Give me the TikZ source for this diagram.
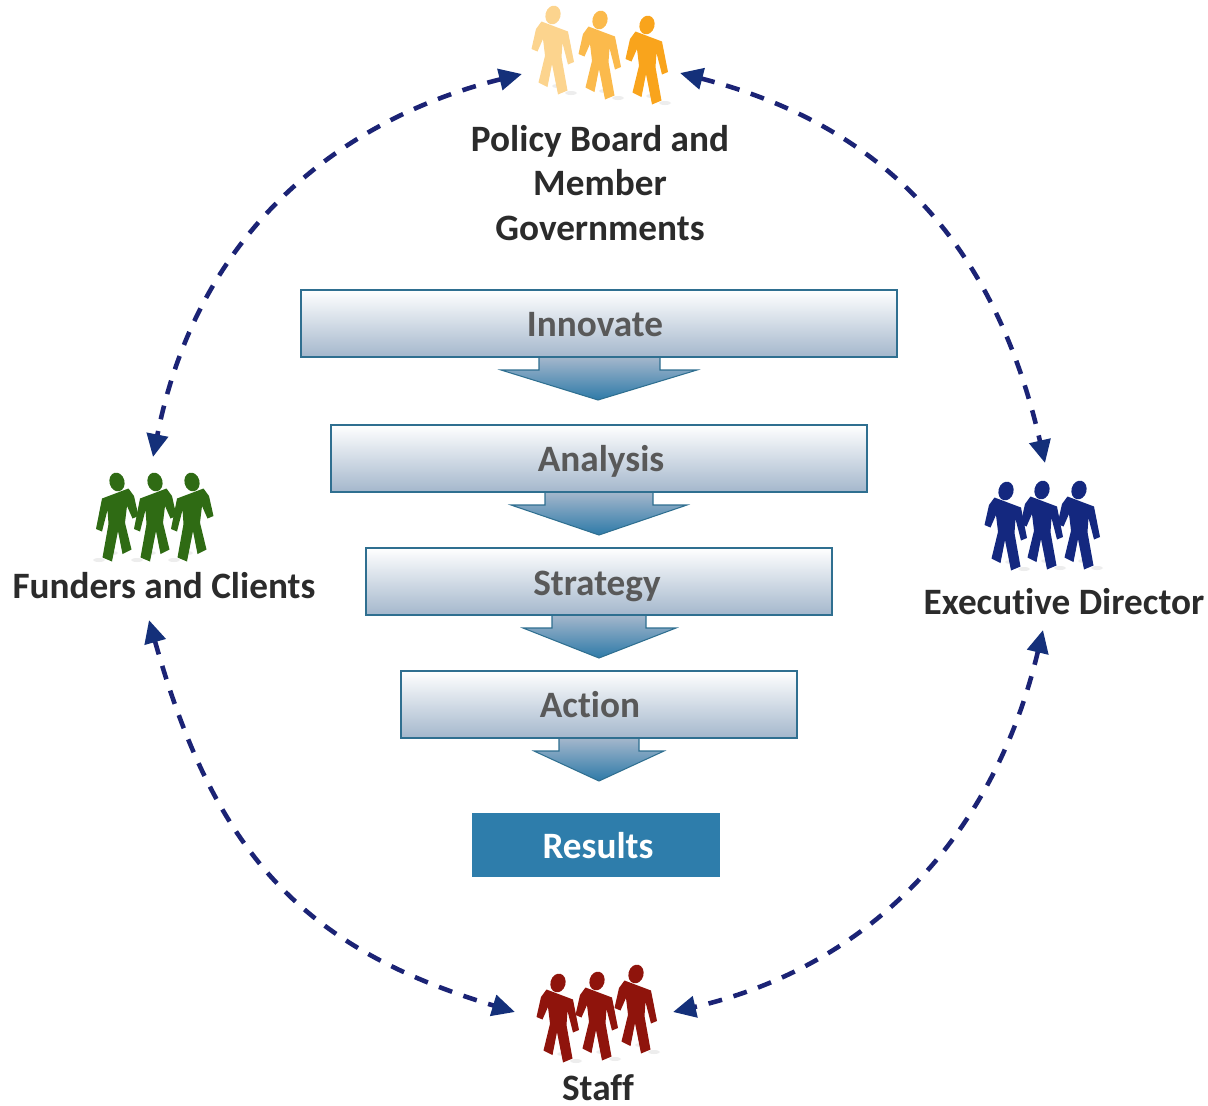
\documentclass[tikz,border=0pt]{standalone}
\usepackage{fontspec}
\setmainfont{Carlito}[Ligatures=NoCommon]
\usetikzlibrary{arrows.meta}
\definecolor{boxlow}{HTML}{A4B7CC}
\definecolor{arrowlow}{HTML}{2E7AA8}
\definecolor{boxedge}{HTML}{2F6F90}
\definecolor{resultblue}{HTML}{2E7DAB}
\definecolor{linkblue}{HTML}{1B2375}
\definecolor{tipblue}{HTML}{14307A}
\definecolor{inkdark}{HTML}{2B2B2B}
\definecolor{inkgrey}{HTML}{595959}
\definecolor{boardA}{HTML}{FCD48E}
\definecolor{boardB}{HTML}{FBBA4C}
\definecolor{boardC}{HTML}{F9A41C}
\definecolor{fundergreen}{HTML}{2F6B14}
\definecolor{directorblue}{HTML}{14287F}
\definecolor{staffred}{HTML}{8F140C}
\begin{document}
\begin{tikzpicture}[x=0.02cm,y=-0.02cm,
	stepbox/.style={draw=boxedge,line width=0.6pt,top color=white,bottom color=boxlow},
	steparrow/.style={draw=boxedge,line width=0.6pt,top color=boxlow,bottom color=arrowlow},
	steplabel/.style={text=inkgrey,font=\fontsize{21.2}{25}\selectfont\bfseries,inner sep=0pt},
	grouplabel/.style={text=inkdark,font=\fontsize{21.2}{25.5}\selectfont\bfseries,inner sep=0pt,align=center},
	link/.style={{Triangle[length=13pt,width=12pt,color=tipblue]}-{Triangle[length=13pt,width=12pt,color=tipblue]},draw=linkblue,fill=none,line width=2.6pt,dash pattern=on 8pt off 6.8pt},
	pics/person/.style={code={
		\fill[gray,opacity=.14] (4,71) ellipse (5 and 2);
		\fill[gray,opacity=.14] (18,78) ellipse (6 and 2);
		\fill[pic actions,rotate=-15] (0,0) ellipse (7.5 and 9.5);
		\fill[pic actions] (-11.5,6.5)--(15,16.5)--(21,47)--(15,49.5)--(9.5,28)--(8.5,42)--(14.5,75.5)--(5,79.5)--(-1,49)--(-5.5,72)--(-14.5,67.5)--(-8,40.7)--(-10,24)--(-15.5,36.5)--(-21.5,34)--(-17,14)--cycle;
	}}]
\useasboundingbox (0,0) rectangle (1208,1106);

% the ladder in the middle
\draw[steparrow] (539,357)--(539,370)--(501,370)--(598,400)--(697,370)--(660,370)--(660,357)--cycle;
\draw[stepbox] (301,290) rectangle (897,357);
\node[steplabel] (innovate) at (595,325) {Innovate};
\draw[steparrow] (545,492)--(545,505)--(511,505)--(599,535)--(687,505)--(653,505)--(653,492)--cycle;
\draw[stepbox] (331,425) rectangle (867,492);
\node[steplabel] (analysis) at (601,461) {Analysis};
\draw[steparrow] (552,615)--(552,628)--(523,628)--(599,658)--(676,628)--(646,628)--(646,615)--cycle;
\draw[stepbox] (366,548) rectangle (832,615);
\node[steplabel] (strategy) at (597,586) {Strategy};
\draw[steparrow] (559,738)--(559,751)--(534,751)--(599,781)--(664,751)--(639,751)--(639,738)--cycle;
\draw[stepbox] (401,671) rectangle (797,738);
\node[steplabel] (action) at (590,705) {Action};
\fill[resultblue] (472,813) rectangle (720,877);
\node[steplabel,text=white] (results) at (598,846) {Results};

% the four groups
\pic[fill=boardA] at (553,15) {person};
\pic[fill=boardB] at (600,20) {person};
\pic[fill=boardC] at (647,25) {person};
\node[grouplabel] (board) at (600,183) {Policy Board and\\Member\\Governments};

\pic[fill=fundergreen,xscale=-1] at (117,482) {person};
\pic[fill=fundergreen,xscale=-1] at (155,482) {person};
\pic[fill=fundergreen,xscale=-1] at (192,482) {person};
\node[grouplabel] (funders) at (164,586) {Funders and Clients};

\pic[fill=directorblue] at (1006,491) {person};
\pic[fill=directorblue] at (1042,490) {person};
\pic[fill=directorblue] at (1079,490) {person};
\node[grouplabel] (director) at (1064,602) {Executive Director};

\pic[fill=staffred] at (558,983) {person};
\pic[fill=staffred] at (597,981) {person};
\pic[fill=staffred] at (636,974) {person};
\node[grouplabel] (staff) at (598,1088) {Staff};

% ends of the dashed ring
\coordinate (boardW) at (522,74);
\coordinate (boardE) at (680,73);
\coordinate (funderN) at (153,457);
\coordinate (funderS) at (149,620);
\coordinate (directorN) at (1045,463);
\coordinate (directorS) at (1043,630);
\coordinate (staffW) at (515,1012);
\coordinate (staffE) at (673,1012);

\draw[link] (boardW) .. controls (372,111) and (203,205) .. (funderN);
\draw[link] (boardE) .. controls (873,123) and (992,232) .. (directorN);
\draw[link] (directorS) .. controls (993,840) and (867,967) .. (staffE);
\draw[link] (funderS) .. controls (215,854) and (303,948) .. (staffW);
\end{tikzpicture}
\end{document}
